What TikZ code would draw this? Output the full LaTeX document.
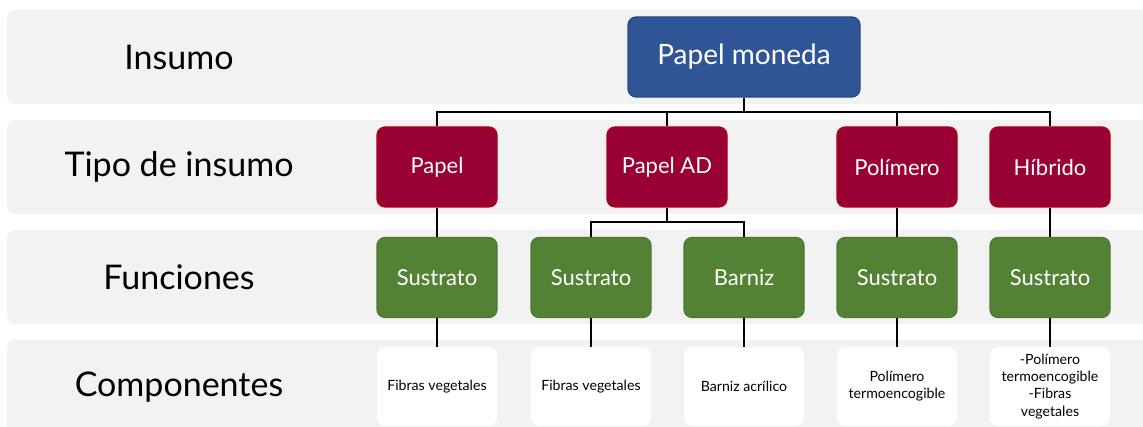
\documentclass[tikz,border=0pt]{standalone}
\usepackage{fontspec}
\setmainfont{Lato}
\definecolor{BandGray}{RGB}{242,242,242}
\definecolor{MonedaBlue}{RGB}{47,85,151}
\definecolor{MonedaEdge}{RGB}{40,72,128}
\definecolor{TipoRed}{RGB}{153,0,51}
\definecolor{TipoEdge}{RGB}{172,0,20}
\definecolor{FuncGreen}{RGB}{84,130,53}
\tikzset{
  band/.style={fill=BandGray, draw=none, rounded corners=6pt},
  rowlabel/.style={font=\fontsize{25.5}{29}\selectfont, text=black},
  box/.style={rounded corners=6pt, minimum width=90pt, minimum height=60pt,
    align=center, text=white, font=\fontsize{16.5}{19}\selectfont, line width=0.9pt},
  monedabox/.style={box, fill=MonedaBlue, draw=MonedaEdge, minimum width=174pt,
    font=\fontsize{21}{24}\selectfont},
  tipobox/.style={box, fill=TipoRed, draw=TipoEdge},
  funcbox/.style={box, fill=FuncGreen, draw=FuncGreen!92!black},
  compbox/.style={box, fill=white, draw=none, text=black, minimum height=59pt,
    font=\fontsize{10.6}{12.8}\selectfont},
  link/.style={draw=black, line width=1.5pt},
}

\begin{document}
\begin{tikzpicture}[x=0.75pt, y=-0.75pt]

  % page frame (bands run past the right edge)
  \path[use as bounding box, clip] (0,0) rectangle (1143,427);

  % --- (A) Row bands and their labels ---
  \path[band] (7,10)  rectangle (1170,104);
  \path[band] (7,120) rectangle (1170,214);
  \path[band] (7,230) rectangle (1170,324);
  \path[band] (7,340) rectangle (1170,450);

  \node[rowlabel] (lInsumo) at (179,57)  {Insumo};
  \node[rowlabel] (lTipo)   at (179,167) {Tipo de insumo};
  \node[rowlabel] (lFunc)   at (179,277) {Funciones};
  \node[rowlabel] (lComp)   at (179,387) {Componentes};

  % --- (B) Insumo and tipos de insumo ---
  \node[monedabox] (moneda) at (744,57) {Papel moneda};

  \node[tipobox] (papel)    at (437,167)  {Papel};
  \node[tipobox] (papelAD)  at (667,167)  {Papel AD};
  \node[tipobox] (polimero) at (897,167)  {Polímero};
  \node[tipobox] (hibrido)  at (1050,167) {Híbrido};

  % --- (C) Funciones ---
  \node[funcbox] (sust1)  at (437,277.5)  {Sustrato};
  \node[funcbox] (sust2)  at (591,277.5)  {Sustrato};
  \node[funcbox] (barniz) at (744,277.5)  {Barniz};
  \node[funcbox] (sust3)  at (897,277.5)  {Sustrato};
  \node[funcbox] (sust4)  at (1050,277.5) {Sustrato};

  % --- (D) Componentes ---
  \node[compbox] (comp1) at (437,386.5)  {Fibras vegetales};
  \node[compbox] (comp2) at (591,386.5)  {Fibras vegetales};
  \node[compbox] (comp3) at (744,386.5)  {Barniz acrílico};
  \node[compbox] (comp4) at (897,386.5)  {Polímero\\termoencogible};
  \node[compbox] (comp5) at (1050,386.5) {-Polímero\\termoencogible\\-Fibras\\vegetales};

  % --- (E) Connectors ---
  \coordinate (busTop) at (744,112);
  \coordinate (busAD)  at (667,222);

  \draw[link, line width=2.2pt] (moneda) -- (busTop);
  \draw[link] (papel.north) -- (papel.north |- busTop) -- (hibrido.north |- busTop) -- (hibrido.north);
  \draw[link] (papelAD) -- (papelAD.north |- busTop);
  \draw[link] (polimero) -- (polimero.north |- busTop);

  \draw[link] (papel) -- (sust1);
  \draw[link] (papelAD) -- (busAD);
  \draw[link] (sust2.north) |- (busAD) -| (barniz.north);
  \draw[link] (polimero) -- (sust3);
  \draw[link] (hibrido) -- (sust4);

  \draw[link] (sust1) -- (comp1);
  \draw[link] (sust2) -- (comp2);
  \draw[link] (barniz) -- (comp3);
  \draw[link] (sust3) -- (comp4);
  \draw[link] (sust4) -- (comp5);

\end{tikzpicture}
\end{document}
